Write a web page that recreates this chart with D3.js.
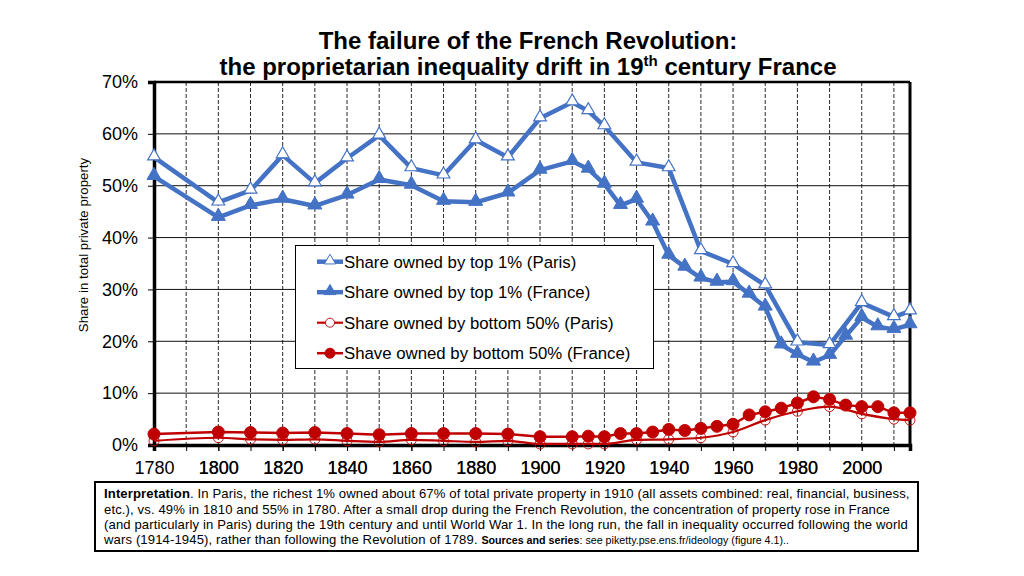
<!DOCTYPE html>
<html><head><meta charset="utf-8">
<script src="https://cdn.jsdelivr.net/npm/d3@7"></script>
<style>
body{margin:0;background:#fff;}
svg{display:block;font-family:"Liberation Sans",Arial,sans-serif;}
</style></head>
<body><svg id="c" width="1024" height="576"></svg>
<script>
// ---- data ----
const parisYears = [1780,1800,1810,1820,1830,1840,1850,1860,1870,1880,1890,1900,1910,1915,1920,1930,1940,1950,1960,1970,1980,1990,2000,2010,2015];
const parisTop1 = [55.5,46.8,49.1,55.9,50.5,55.3,59.7,53.4,52.0,58.8,55.5,63.0,66.1,64.4,61.5,54.5,53.4,37.4,34.9,30.8,19.8,19.3,27.4,24.7,25.8];
const parisBottom50 = [0.8,1.4,1.1,1.0,1.1,0.8,0.6,1.0,0.8,0.6,0.8,0.2,0.2,0.2,0.2,1.0,1.1,1.4,2.5,4.8,6.5,7.4,6.0,5.0,4.8];
const franceYears = [1780,1800,1810,1820,1830,1840,1850,1860,1870,1880,1890,1900,1910,1915,1920,1925,1930,1935,1940,1945,1950,1955,1960,1965,1970,1975,1980,1985,1990,1995,2000,2005,2010,2015];
const franceTop1 = [51.8,43.9,46.2,47.4,46.1,48.2,51.2,50.1,47.0,46.8,48.6,53.0,54.7,53.2,50.3,46.2,47.4,43.0,36.6,34.3,32.2,31.4,31.5,29.1,26.6,19.3,17.5,16.0,17.3,21.0,24.6,22.8,22.3,23.2];
const franceBottom50 = [2.1,2.5,2.4,2.3,2.4,2.2,2.0,2.2,2.2,2.2,2.1,1.6,1.6,1.7,1.6,2.2,2.2,2.5,3.0,2.8,3.2,3.6,4.0,5.8,6.4,7.1,8.1,9.3,8.8,7.7,7.4,7.4,6.2,6.2];
const yTicks = [0,10,20,30,40,50,60,70];
const xLabelYears = [1780,1800,1820,1840,1860,1880,1900,1920,1940,1960,1980,2000];
const xGridYears = [1790,1800,1810,1820,1830,1840,1850,1860,1870,1880,1890,1900,1910,1920,1930,1940,1950,1960,1970,1980,1990,2000,2010];
const legendLabels = ["Share owned by top 1% (Paris)","Share owned by top 1% (France)","Share owned by bottom 50% (Paris)","Shave owned by bottom 50% (France)"];
const titleLines = ["The failure of the French Revolution:","the proprietarian inequality drift in 19","th"," century France"];
const captionLines = [
  [["b","Interpretation"],["n",". In Paris, the richest 1% owned about 67% of total private property in 1910 (all assets combined: real, financial, business,"]],
  [["n","etc.), vs. 49% in 1810 and 55% in 1780. After a small drop during the French Revolution, the concentration of property rose in France"]],
  [["n","(and particularly in Paris) during the 19th century and until World War 1. In the long run, the fall in inequality occurred following the world"]],
  [["n","wars (1914-1945), rather than following the Revolution of 1789. "],["sb","Sources and series"],["s",": see piketty.pse.ens.fr/ideology (figure 4.1).."]]
];

const BLUE = "#4472C4", RED = "#C00000";
const svg = d3.select("#c");
const L = 154, R = 910, T = 82, B = 445;
const x = d3.scaleLinear().domain([1780, 2015]).range([L, R]);
const y = d3.scaleLinear().domain([0, 70]).range([B, T]);

// title
const narrow = '"Liberation Sans Narrow","Arial Narrow","Liberation Sans",sans-serif';
svg.append("text").attr("x", 528).attr("y", 49).attr("text-anchor","middle")
  .attr("font-weight","bold").attr("font-size", 24).text(titleLines[0]);
const t2 = svg.append("text").attr("x", 528).attr("y", 75).attr("text-anchor","middle")
  .attr("font-weight","bold").attr("font-size", 24);
t2.append("tspan").text(titleLines[1]);
t2.append("tspan").attr("dy", -9).attr("font-size", 15).text(titleLines[2]);
t2.append("tspan").attr("dy", 9).text(titleLines[3]);

// gridlines
const g = svg.append("g");
g.selectAll(".hg").data(yTicks.filter(d => d > 0 && d < 70)).join("line")
  .attr("x1", L).attr("x2", R).attr("y1", d => y(d)).attr("y2", d => y(d))
  .attr("stroke", "#111").attr("stroke-width", 1);
g.selectAll(".vg").data(xGridYears).join("line")
  .attr("x1", d => x(d)).attr("x2", d => x(d)).attr("y1", T).attr("y2", B)
  .attr("stroke", "#111").attr("stroke-width", 0.9).attr("stroke-dasharray", "4,2");

// frame
svg.append("line").attr("x1", L).attr("x2", R).attr("y1", T).attr("y2", T).attr("stroke","#000").attr("stroke-width",2.5);
svg.append("line").attr("x1", R).attr("x2", R).attr("y1", T).attr("y2", B).attr("stroke","#000").attr("stroke-width",3);

// y axis
const yAxis = d3.axisLeft(y).tickValues(yTicks).tickFormat(d => d + "%").tickSize(6).tickPadding(10);
const ya = svg.append("g").attr("transform", `translate(${L},0)`).call(yAxis);
ya.select(".domain").attr("stroke-width", 3.5);
ya.selectAll("text").attr("font-size", 18).attr("font-family", '"Liberation Sans",Arial,sans-serif').attr("fill","#000");
// x axis
const xAxis = d3.axisBottom(x).tickValues(xLabelYears.concat(xGridYears)).tickFormat(d => xLabelYears.includes(d) ? d3.format("d")(d) : "").tickSize(6).tickPadding(10);
const xa = svg.append("g").attr("transform", `translate(0,${B})`).call(xAxis);
xa.select(".domain").attr("stroke-width", 3.5);
xa.selectAll("text").attr("font-size", 18).attr("font-family", '"Liberation Sans",Arial,sans-serif').attr("fill","#000");

// y title
svg.append("text").attr("transform", "translate(88,245) rotate(-90)").attr("text-anchor","middle")
  .attr("font-size", 13.3).text("Share in total private property");

// series
const mk = (ys, vs) => ys.map((yr, i) => ({yr, v: vs[i]}));
const sParisTop = mk(parisYears, parisTop1), sFrTop = mk(franceYears, franceTop1);
const sParisBot = mk(parisYears, parisBottom50), sFrBot = mk(franceYears, franceBottom50);
const line = d3.line().x(d => x(d.yr)).y(d => y(d.v));
const smooth = d3.line().x(d => x(d.yr)).y(d => y(d.v)).curve(d3.curveMonotoneX);

const tri = d3.symbol().type(d3.symbolTriangle);
function drawSeries(data, gen, color, width, marker) {
  const gg = svg.append("g");
  gg.append("path").attr("d", gen(data)).attr("fill","none").attr("stroke", color).attr("stroke-width", width).attr("stroke-linejoin","round");
  const m = gg.selectAll("m").data(data).join(marker.type === "circle" ? "circle" : "path");
  if (marker.type === "circle") {
    m.attr("cx", d => x(d.yr)).attr("cy", d => y(d.v)).attr("r", marker.r)
     .attr("fill", marker.fill).attr("stroke", color).attr("stroke-width", marker.sw);
  } else {
    m.attr("transform", d => `translate(${x(d.yr)},${y(d.v) + marker.dy})`).attr("d", tri.size(marker.size)())
     .attr("fill", marker.fill).attr("stroke", color).attr("stroke-width", marker.sw);
  }
}
const markers = [
  {type:"tri", size:70, fill:"#fff", sw:1.2, dy:-1},
  {type:"tri", size:85, fill:BLUE, sw:1, dy:-1},
  {type:"circle", r:5, fill:"none", sw:0.9},
  {type:"circle", r:6, fill:RED, sw:1}
];
drawSeries(sParisBot, smooth, RED, 2.2, markers[2]);
drawSeries(sFrBot, line, RED, 2.5, markers[3]);
drawSeries(sFrTop, line, BLUE, 4.5, markers[1]);
drawSeries(sParisTop, line, BLUE, 4.5, markers[0]);

// legend
const lg = svg.append("g");
lg.append("rect").attr("x", 295.5).attr("y", 245.5).attr("width", 358).attr("height", 123)
  .attr("fill", "#fff").attr("stroke", "#000").attr("stroke-width", 1);
const legendColors = [BLUE, BLUE, RED, RED], legendWidths = [4.5, 4.5, 2.2, 2.5];
const legendMarkers = [
  {type:"tri", size:55, fill:"#fff", sw:1},
  {type:"tri", size:60, fill:BLUE, sw:1},
  {type:"circle", r:4.5, fill:"#fff", sw:0.9},
  {type:"circle", r:5, fill:RED, sw:1}
];
legendLabels.forEach((lab, i) => {
  const cy = 261.7 + i * 30.5;
  lg.append("line").attr("x1", 317).attr("x2", 343).attr("y1", cy).attr("y2", cy)
    .attr("stroke", legendColors[i]).attr("stroke-width", legendWidths[i]);
  const mkr = legendMarkers[i];
  if (mkr.type === "circle") {
    lg.append("circle").attr("cx", 330).attr("cy", cy).attr("r", mkr.r).attr("fill", mkr.fill)
      .attr("stroke", legendColors[i]).attr("stroke-width", mkr.sw);
  } else {
    lg.append("path").attr("transform", `translate(330,${cy - 1})`).attr("d", tri.size(mkr.size)())
      .attr("fill", mkr.fill).attr("stroke", legendColors[i]).attr("stroke-width", mkr.sw);
  }
  lg.append("text").attr("x", 344).attr("y", cy + 5.8).attr("font-size", 16.8).text(lab);
});

// caption
svg.append("rect").attr("x", 95).attr("y", 482).attr("width", 823).attr("height", 69)
  .attr("fill","#fff").attr("stroke","#000").attr("stroke-width", 2);
captionLines.forEach((parts, i) => {
  const t = svg.append("text").attr("x", 104).attr("y", 498.3 + i * 15.3).attr("font-size", 13.1).attr("letter-spacing", 0.12);
  parts.forEach(([k, s]) => {
    const sp = t.append("tspan").text(s);
    if (k === "b") sp.attr("font-weight", "bold");
    if (k === "sb") sp.attr("font-weight", "bold").attr("font-family", narrow).attr("font-size", 10.7).attr("letter-spacing", 0);
    if (k === "s") sp.attr("font-family", narrow).attr("font-size", 10.7).attr("letter-spacing", 0);
  });
});
</script></body></html>
